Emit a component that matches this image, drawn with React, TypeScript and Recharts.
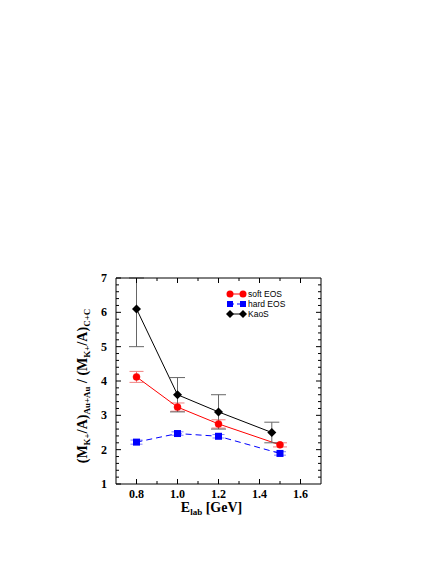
import React from "react";
import {
  ComposedChart,
  Line,
  XAxis,
  YAxis,
  ErrorBar,
  Legend,
} from "recharts";

// model energies (GeV) and ratios
const energies = [0.8, 1.0, 1.2, 1.5];
const softEos = [4.12, 3.24, 2.75, 2.14];
const softErr = [0.16, 0.12, 0.12, 0.06];
const hardEos = [2.22, 2.47, 2.39, 1.89];
const hardErr = [0.06, 0.05, 0.05, 0.05];

// KaoS data
const kaosEnergies = [0.8, 1.0, 1.2, 1.46];
const kaosRatio = [6.1, 3.6, 3.1, 2.5];
const kaosErrLow = [1.1, 0.5, 0.5, 0.3];
const kaosErrHigh = [0.9, 0.5, 0.5, 0.3];

const seriesNames = ["soft EOS", "hard EOS", "KaoS"];

const xTicks = [0.8, 0.9, 1.0, 1.1, 1.2, 1.3, 1.4, 1.5, 1.6];
const xMajor = [0.8, 1.0, 1.2, 1.4, 1.6];
const yTicks = [
  1.2, 1.4, 1.6, 1.8, 2, 2.2, 2.4, 2.6, 2.8, 3, 3.2, 3.4, 3.6, 3.8, 4,
  4.2, 4.4, 4.6, 4.8, 5, 5.2, 5.4, 5.6, 5.8, 6, 6.2, 6.4, 6.6, 6.8,
];
const yMajor = [1, 2, 3, 4, 5, 6, 7];
const yLabels = [1, 2, 3, 4, 5, 6, 7];

const softData = energies.map((e, i) => ({ x: e, y: softEos[i], err: softErr[i] }));
const hardData = energies.map((e, i) => ({ x: e, y: hardEos[i], err: hardErr[i] }));
const kaosData = kaosEnergies.map((e, i) => ({
  x: e,
  y: kaosRatio[i],
  err: [kaosErrLow[i], kaosErrHigh[i]],
}));

const serif = "'Liberation Serif', 'Times New Roman', serif";
const sans = "'Liberation Sans', Arial, sans-serif";

const isIn = (list: number[], v: number) => list.some((m) => Math.abs(m - v) < 1e-6);

const BottomTick = (props: any) => {
  const { x, y, payload } = props;
  const major = isIn(xMajor, payload.value);
  return (
    <g>
      <line x1={x} y1={y} x2={x} y2={y - (major ? 5 : 3)} stroke="#000" />
      {major && (
        <text x={x} y={y + 14} textAnchor="middle" fontFamily={serif} fontWeight="bold" fontSize={12} fill="#000">
          {payload.value.toFixed(1)}
        </text>
      )}
    </g>
  );
};

const TopTick = (props: any) => {
  const { x, y, payload } = props;
  const major = isIn(xMajor, payload.value);
  return <line x1={x} y1={y} x2={x} y2={y + (major ? 5 : 3)} stroke="#000" />;
};

const LeftTick = (props: any) => {
  const { x, y, payload } = props;
  const major = isIn(yMajor, payload.value);
  return (
    <g>
      <line x1={x} y1={y} x2={x + (major ? 5 : 3)} y2={y} stroke="#000" />
      {isIn(yLabels, payload.value) && (
        <text x={x - 9} y={y + 4} textAnchor="end" fontFamily={serif} fontWeight="bold" fontSize={12} fill="#000">
          {payload.value}
        </text>
      )}
    </g>
  );
};

const RightTick = (props: any) => {
  const { x, y, payload } = props;
  const major = isIn(yMajor, payload.value);
  return <line x1={x} y1={y} x2={x - (major ? 5 : 3)} y2={y} stroke="#000" />;
};

const YLabel = (props: any) => {
  const vb = props.viewBox;
  const cx = vb.x + vb.width - 29;
  const cy = vb.y + vb.height / 2 + 5;
  return (
    <text
      x={cx}
      y={cy}
      transform={`rotate(-90, ${cx}, ${cy})`}
      textAnchor="middle"
      fontFamily={serif}
      fontWeight="bold"
      fontSize={14}
      fill="#000"
    >
      <tspan>(M</tspan>
      <tspan fontSize={9} dy={3}>K+</tspan>
      <tspan dy={-3}>/A)</tspan>
      <tspan fontSize={9} dy={3}>Au+Au</tspan>
      <tspan dy={-3}> / (M</tspan>
      <tspan fontSize={9} dy={3}>K+</tspan>
      <tspan dy={-3}>/A)</tspan>
      <tspan fontSize={9} dy={3}>C+C</tspan>
    </text>
  );
};

const XLabel = (props: any) => {
  const vb = props.viewBox;
  return (
    <text
      x={vb.x + vb.width / 2 - 7}
      y={vb.y + 28}
      textAnchor="middle"
      fontFamily={serif}
      fontWeight="bold"
      fontSize={14}
      fill="#000"
    >
      <tspan>E</tspan>
      <tspan fontSize={9} dy={3}>lab</tspan>
      <tspan dy={-3}> [GeV]</tspan>
    </text>
  );
};

const Square = (props: any) => {
  const { cx, cy } = props;
  if (cx == null || cy == null) return null;
  return <rect x={cx - 3.5} y={cy - 3.5} width={7} height={7} fill="#0000ff" />;
};

const Diamond = (props: any) => {
  const { cx, cy } = props;
  if (cx == null || cy == null) return null;
  const r = 4.5;
  return <polygon points={`${cx},${cy - r} ${cx + r},${cy} ${cx},${cy + r} ${cx - r},${cy}`} fill="#000" />;
};

const LegendBox = () => {
  const colors = ["#ff0000", "#0000ff", "#000000"];
  return (
    <svg width={70} height={32} style={{ display: "block" }}>
      {seriesNames.map((name, i) => {
        const cy = 6 + i * 10;
        const c = colors[i];
        return (
          <g key={name}>
            <line x1={6} y1={cy} x2={19} y2={cy} stroke={c} strokeDasharray={i === 1 ? "4 3" : undefined} />
            {i === 0 && (
              <>
                <circle cx={6} cy={cy} r={3.5} fill={c} />
                <circle cx={19} cy={cy} r={3.5} fill={c} />
              </>
            )}
            {i === 1 && (
              <>
                <rect x={3} y={cy - 3} width={6} height={6} fill={c} />
                <rect x={16} y={cy - 3} width={6} height={6} fill={c} />
              </>
            )}
            {i === 2 && (
              <>
                <polygon points={`6,${cy - 4} 10,${cy} 6,${cy + 4} 2,${cy}`} fill={c} />
                <polygon points={`19,${cy - 4} 23,${cy} 19,${cy + 4} 15,${cy}`} fill={c} />
              </>
            )}
            <text x={24} y={cy + 3} fontFamily={sans} fontSize={8.5} fill="#000">
              {name}
            </text>
          </g>
        );
      })}
    </svg>
  );
};

export default function App() {
  return (
    <div style={{ position: "absolute", left: 0, top: 0, width: 436, height: 564, background: "#fff" }}>
      <ComposedChart
        width={436}
        height={564}
        margin={{ top: 273, right: 110, bottom: 40, left: 76 }}
      >
        <XAxis
          dataKey="x"
          type="number"
          domain={[0.7, 1.7]}
          ticks={xTicks}
          interval={0}
          tickSize={0}
          tickMargin={0}
          tickLine={false}
          tick={<BottomTick />}
          axisLine={{ stroke: "#000" }}
          height={40}
          allowDataOverflow
          label={<XLabel />}
        />
        <XAxis
          xAxisId="top"
          orientation="top"
          dataKey="x"
          type="number"
          domain={[0.7, 1.7]}
          ticks={xTicks}
          interval={0}
          tickSize={0}
          tickMargin={0}
          tickLine={false}
          tick={<TopTick />}
          axisLine={{ stroke: "#000" }}
          height={5}
          allowDataOverflow
        />
        <YAxis
          type="number"
          domain={[1, 7]}
          ticks={[1, ...yTicks, 7]}
          interval={0}
          tickSize={0}
          tickMargin={0}
          tickLine={false}
          tick={<LeftTick />}
          axisLine={{ stroke: "#000" }}
          width={40}
          allowDataOverflow
          label={<YLabel />}
        />
        <YAxis
          yAxisId="right"
          orientation="right"
          type="number"
          domain={[1, 7]}
          ticks={yTicks}
          interval={0}
          tickSize={0}
          tickMargin={0}
          tickLine={false}
          tick={<RightTick />}
          axisLine={{ stroke: "#000" }}
          width={5}
          allowDataOverflow
        />
        <Legend
          layout="vertical"
          align="center"
          verticalAlign="middle"
          wrapperStyle={{ position: "absolute", left: 224, top: 288, width: 70 }}
          content={<LegendBox />}
        />
        <Line
          data={hardData}
          dataKey="y"
          name={seriesNames[1]}
          stroke="#0000ff"
          strokeWidth={1}
          strokeDasharray="6 4"
          dot={<Square />}
          activeDot={false}
          isAnimationActive={false}
        >
          <ErrorBar dataKey="err" width={6} stroke="#8080ff" strokeWidth={1} direction="y" />
        </Line>
        <Line
          data={softData}
          dataKey="y"
          name={seriesNames[0]}
          stroke="#ff0000"
          strokeWidth={1}
          dot={{ r: 3.5, fill: "#ff0000", stroke: "#ff0000", strokeWidth: 0.5 }}
          activeDot={false}
          isAnimationActive={false}
        >
          <ErrorBar dataKey="err" width={7} stroke="#f08080" strokeWidth={1} direction="y" />
        </Line>
        <Line
          data={kaosData}
          dataKey="y"
          name={seriesNames[2]}
          stroke="#000000"
          strokeWidth={1}
          dot={<Diamond />}
          activeDot={false}
          isAnimationActive={false}
        >
          <ErrorBar dataKey="err" width={7.5} stroke="#666666" strokeWidth={1} direction="y" />
        </Line>
      </ComposedChart>
    </div>
  );
}
